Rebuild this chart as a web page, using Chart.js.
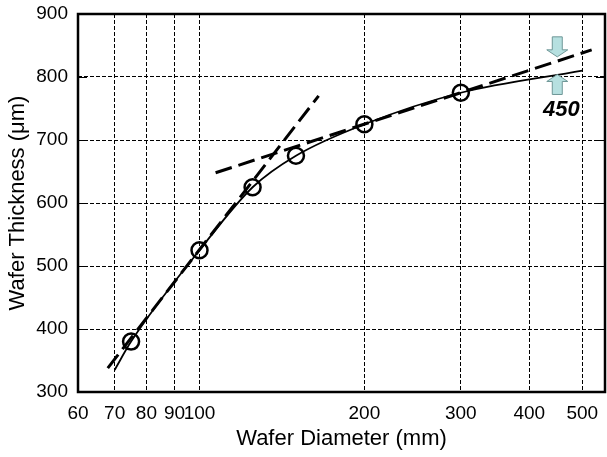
<!DOCTYPE html>
<html>
<head>
<meta charset="utf-8">
<script src="https://cdn.jsdelivr.net/npm/chart.js@4/dist/chart.umd.min.js"></script>
<style>
  html, body { margin: 0; padding: 0; background: #fff; }
  #wrap { width: 607px; height: 457px; }
</style>
</head>
<body>
<div id="wrap"><canvas id="chart" width="607" height="457"></canvas></div>
<script>
// Measured points (circles)
const diameters = [75, 100, 125, 150, 200, 300];
const thickness = [380, 525, 625, 675, 725, 775];

// Solid fitted curve
const curveX = [70, 75, 100, 125, 150, 200, 300, 500];
const curveY = [335, 380, 525, 625, 675, 725, 775, 810];

// Dashed trend lines (steep small-wafer trend, shallow large-wafer trend)
const steepX = [68, 165];
const steepY = [338, 770];
const shallowX = [107, 520];
const shallowY = [648, 843];

// Axis ticks
const xTicks = [60, 70, 80, 90, 100, 200, 300, 400, 500];
const yTicks = [300, 400, 500, 600, 700, 800, 900];

// Annotation at 450 mm
const noteX = 450;
const arrowTips = [832, 804];   // down arrow tip, up arrow tip
const noteText = '450';
const noteY = 748;

Chart.defaults.font.family = '"Liberation Sans", Arial, sans-serif';
Chart.defaults.color = '#000';

function toPoints(xs, ys) {
    return xs.map((x, i) => ({ x: x, y: ys[i] }));
}

// Box frame, inner tick marks and the arrow annotation
const decorations = {
    id: 'decorations',
    afterDraw(chart) {
        const ctx = chart.ctx;
        const area = chart.chartArea;
        const xs = chart.scales.x;
        const ys = chart.scales.y;

        ctx.save();
        // inner y tick marks on both sides
        ctx.strokeStyle = '#000';
        ctx.lineWidth = 1;
        yTicks.forEach(v => {
            const py = Math.round(ys.getPixelForValue(v)) + 0.5;
            ctx.beginPath();
            ctx.moveTo(area.left, py);
            ctx.lineTo(area.left + 9, py);
            ctx.moveTo(area.right - 9, py);
            ctx.lineTo(area.right, py);
            ctx.stroke();
        });

        // frame
        ctx.lineWidth = 2.5;
        ctx.strokeRect(area.left, area.top, area.right - area.left, area.bottom - area.top);

        // arrows
        const ax = xs.getPixelForValue(noteX);
        const downTip = ys.getPixelForValue(arrowTips[0]);
        const upTip = ys.getPixelForValue(arrowTips[1]);
        drawArrow(ctx, ax, downTip, 1);
        drawArrow(ctx, ax, upTip, -1);

        // label
        ctx.fillStyle = '#000';
        ctx.font = 'italic bold 22px "Liberation Sans", Arial, sans-serif';
        ctx.textAlign = 'center';
        ctx.textBaseline = 'middle';
        ctx.fillText(noteText, ax + 4, ys.getPixelForValue(noteY));
        ctx.restore();
    }
};

// dir 1 = pointing down, -1 = pointing up
function drawArrow(ctx, x, tip, dir) {
    const shaftW = 5, headW = 10.5, headL = 7, shaftL = 13;
    const base = tip - dir * headL;
    const end = base - dir * shaftL;
    ctx.beginPath();
    ctx.moveTo(x, tip);
    ctx.lineTo(x + headW, base);
    ctx.lineTo(x + shaftW, base);
    ctx.lineTo(x + shaftW, end);
    ctx.lineTo(x - shaftW, end);
    ctx.lineTo(x - shaftW, base);
    ctx.lineTo(x - headW, base);
    ctx.closePath();
    ctx.fillStyle = '#b6e0e0';
    ctx.fill();
    ctx.strokeStyle = '#6f9797';
    ctx.lineWidth = 1;
    ctx.stroke();
}

new Chart(document.getElementById('chart'), {
    type: 'scatter',
    data: {
        datasets: [
            {
                label: 'curve',
                data: toPoints(curveX, curveY),
                showLine: true,
                cubicInterpolationMode: 'monotone',
                borderColor: '#000',
                borderWidth: 1.8,
                pointRadius: 0,
                fill: false
            },
            {
                label: 'steep',
                data: toPoints(steepX, steepY),
                showLine: true,
                borderColor: '#000',
                borderWidth: 3,
                borderDash: [17, 7],
                pointRadius: 0,
                fill: false
            },
            {
                label: 'shallow',
                data: toPoints(shallowX, shallowY),
                showLine: true,
                borderColor: '#000',
                borderWidth: 3,
                borderDash: [17, 7],
                pointRadius: 0,
                fill: false
            },
            {
                label: 'measured',
                data: toPoints(diameters, thickness),
                showLine: false,
                pointStyle: 'circle',
                pointRadius: 8,
                pointBorderWidth: 2.5,
                borderColor: '#000',
                backgroundColor: 'rgba(0,0,0,0)'
            }
        ]
    },
    options: {
        responsive: false,
        animation: false,
        layout: { autoPadding: false, padding: { top: 14, right: 2, left: 0, bottom: 0 } },
        plugins: {
            legend: { display: false },
            tooltip: { enabled: false }
        },
        scales: {
            x: {
                type: 'logarithmic',
                min: 60,
                max: 550,
                afterBuildTicks: scale => {
                    scale.ticks = xTicks.map(v => ({ value: v }));
                },
                afterFit: scale => {
                    scale.height = 65;
                    scale.paddingLeft = 0;
                    scale.paddingRight = 0;
                },
                ticks: {
                    autoSkip: false,
                    maxRotation: 0,
                    padding: 10,
                    font: { size: 19 },
                    callback: v => String(v)
                },
                grid: { color: '#000', lineWidth: 1, drawTicks: false },
                border: { display: false, dash: [4, 2] },
                title: {
                    display: true,
                    text: 'Wafer Diameter (mm)',
                    font: { size: 22 },
                    padding: { top: 0, bottom: 5 }
                }
            },
            y: {
                type: 'linear',
                min: 300,
                max: 900,
                afterBuildTicks: scale => {
                    scale.ticks = yTicks.map(v => ({ value: v }));
                },
                afterFit: scale => {
                    scale.width = 78;
                    scale.paddingTop = 0;
                    scale.paddingBottom = 0;
                },
                ticks: {
                    padding: 10,
                    font: { size: 19 }
                },
                grid: { color: '#000', lineWidth: 1, drawTicks: false },
                border: { display: false, dash: [4, 2] },
                title: {
                    display: true,
                    text: 'Wafer Thickness (μm)',
                    font: { size: 22 },
                    padding: { top: 5, bottom: 0 }
                }
            }
        }
    },
    plugins: [decorations]
});
</script>
</body>
</html>
